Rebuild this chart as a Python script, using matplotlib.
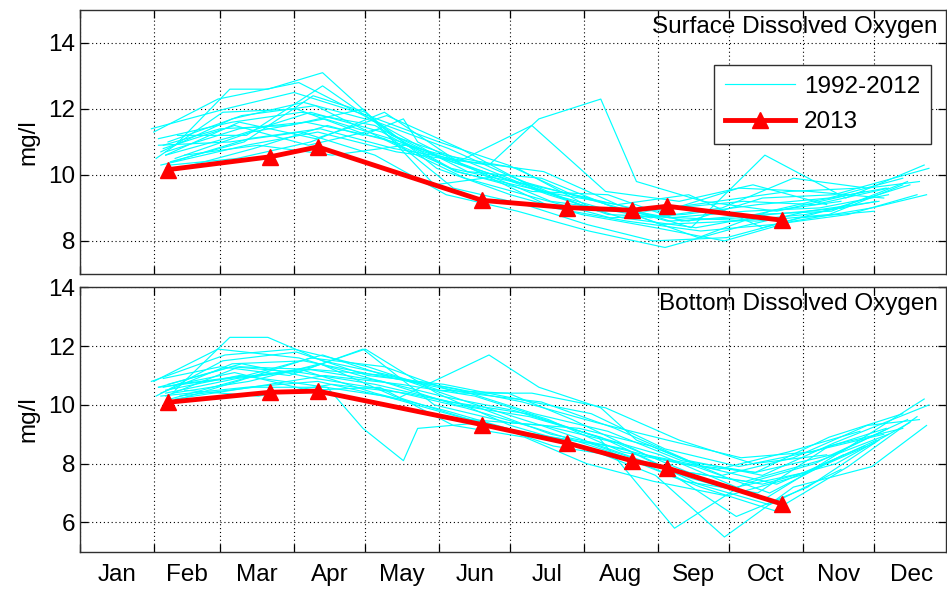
import matplotlib
matplotlib.use("Agg")
import matplotlib.pyplot as plt

plt.rcParams['font.family'] = ['Liberation Sans', 'DejaVu Sans']

# month boundaries (day of year, 0-based) and label positions (mid month)
month_starts = [0, 31, 59, 90, 120, 151, 181, 212, 243, 273, 304, 334]
month_mids = [15.5, 45, 74.5, 105, 135.5, 166, 196.5, 227.5, 258, 288.5, 319, 349.5]
month_names = ["Jan", "Feb", "Mar", "Apr", "May", "Jun",
               "Jul", "Aug", "Sep", "Oct", "Nov", "Dec"]

# 1992-2012 cruises: sampling day, surface DO, bottom DO (one row per year)
hist_days = [
    [36, 66, 97, 127, 158, 189, 219, 248, 280, 311, 340],
    [31, 58, 92, 122, 152, 183, 214, 244, 276, 305, 335],
    [40, 63, 79, 102, 131, 163, 194, 226, 257, 288, 322, 355],
    [34, 70, 100, 133, 172, 193, 219, 234, 262, 293, 330],
    [38, 69, 98, 120, 150, 181, 211, 242, 271, 300, 333, 356],
    [33, 64, 93, 124, 156, 188, 218, 250, 279, 309, 340],
    [36, 67, 95, 128, 159, 190, 222, 253, 284, 316, 348],
    [42, 73, 104, 119, 136, 142, 170, 199, 230, 261, 292, 323, 352],
    [32, 60, 91, 121, 153, 184, 215, 246, 277, 307, 338],
    [37, 68, 99, 130, 162, 192, 223, 254, 285, 315, 346],
    [35, 65, 96, 126, 157, 187, 213, 241, 272, 303, 334],
    [39, 71, 101, 132, 164, 195, 226, 256, 287, 318, 349],
    [30, 61, 90, 121, 151, 180, 207, 238, 268, 298, 328],
    [44, 75, 106, 137, 168, 198, 229, 260, 290, 320],
    [34, 64, 94, 125, 155, 186, 217, 247, 278, 308, 339],
    [38, 66, 97, 128, 159, 190, 221, 252, 283, 314],
    [41, 70, 102, 132, 163, 194, 225, 256, 287, 317, 357],
    [33, 63, 93, 124, 154, 184, 214, 246, 276, 306, 336],
    [36, 67, 99, 129, 160, 191, 222, 253, 284, 315, 346],
    [40, 72, 103, 135, 166, 197, 228, 259, 290, 321],
    [35, 59, 88, 119, 149, 180, 210, 240, 270, 300, 331, 353],
]
hist_surface = [
    [10.6, 11.2, 11.9, 11.3, 10.1, 9.6, 9.0, 8.7, 8.9, 9.0, 9.4],
    [11.3, 12.3, 12.8, 11.7, 10.5, 9.8, 9.3, 8.5, 8.6, 8.8, 9.2],
    [10.9, 12.6, 12.6, 13.1, 11.2, 10.4, 9.5, 9.1, 8.4, 10.6, 9.3, 10.3],
    [10.3, 10.9, 11.3, 10.7, 10.3, 11.7, 12.3, 9.8, 9.2, 8.9, 9.5],
    [10.4, 11.0, 12.4, 11.9, 10.2, 9.4, 8.8, 8.4, 8.0, 8.6, 9.0, 9.4],
    [11.1, 11.6, 11.9, 11.5, 10.2, 9.7, 8.9, 9.0, 9.2, 9.1, 9.6],
    [10.7, 11.4, 11.6, 11.1, 10.1, 9.5, 9.4, 8.6, 8.8, 8.9, 9.8],
    [10.2, 10.8, 11.5, 11.2, 11.7, 11.0, 10.0, 9.0, 8.6, 8.3, 8.5, 8.8, 9.4],
    [10.5, 11.9, 12.0, 11.2, 10.6, 10.2, 9.0, 8.9, 9.6, 9.5, 9.3],
    [11.0, 11.8, 12.1, 11.0, 9.9, 9.3, 8.7, 8.8, 9.1, 9.3, 9.9],
    [10.8, 11.5, 10.9, 11.4, 9.6, 9.1, 8.5, 8.0, 8.1, 8.7, 8.9],
    [10.4, 11.1, 11.4, 10.8, 10.4, 10.1, 9.1, 9.4, 8.4, 9.0, 9.7],
    [11.4, 12.0, 12.5, 11.8, 11.0, 10.3, 9.4, 8.9, 9.2, 9.5, 9.6],
    [10.6, 10.9, 10.6, 10.9, 10.1, 9.2, 8.9, 8.1, 8.9, 9.2],
    [10.7, 11.7, 12.2, 11.6, 10.8, 9.8, 9.2, 8.6, 8.7, 9.2, 9.6],
    [10.3, 10.5, 11.0, 11.9, 10.4, 11.5, 9.5, 9.2, 9.7, 9.1],
    [11.2, 11.2, 12.7, 11.2, 10.1, 9.9, 9.0, 8.6, 9.3, 9.4, 10.2],
    [10.9, 11.0, 11.3, 10.6, 9.4, 8.9, 8.3, 7.8, 8.4, 8.9, 9.2],
    [10.6, 11.6, 11.1, 11.8, 10.8, 9.6, 8.8, 8.7, 8.6, 8.8, 9.7],
    [10.5, 11.3, 11.7, 11.0, 10.2, 9.4, 8.7, 8.4, 8.8, 9.0],
    [10.9, 11.4, 11.5, 12.0, 9.7, 10.0, 9.1, 8.7, 9.0, 9.9, 9.6, 9.8],
]
hist_bottom = [
    [10.4, 10.9, 11.2, 10.8, 10.0, 9.6, 8.9, 7.8, 7.4, 8.1, 9.0],
    [10.8, 11.9, 11.6, 10.9, 10.3, 9.8, 9.0, 8.3, 7.2, 7.7, 8.8],
    [10.5, 12.3, 12.3, 11.5, 11.0, 10.1, 9.3, 8.4, 7.5, 6.8, 8.5, 10.2],
    [10.3, 10.6, 10.8, 10.2, 11.7, 10.6, 9.9, 8.8, 7.9, 7.3, 8.6],
    [10.2, 10.9, 11.3, 11.9, 10.4, 9.3, 8.6, 7.6, 5.5, 7.2, 7.9, 9.3],
    [10.6, 11.3, 11.1, 10.7, 10.1, 9.7, 8.9, 5.8, 7.3, 8.0, 9.2],
    [10.5, 11.0, 10.7, 10.3, 9.6, 9.0, 8.6, 8.0, 7.7, 8.3, 9.5],
    [10.3, 10.6, 10.6, 9.2, 8.1, 9.2, 9.4, 8.6, 8.2, 7.2, 6.4, 7.9, 9.6],
    [10.3, 11.5, 11.8, 11.0, 10.7, 10.2, 9.7, 8.5, 7.9, 8.4, 9.0],
    [10.7, 11.4, 10.9, 10.5, 9.9, 9.2, 8.4, 7.4, 7.0, 8.6, 9.2],
    [10.6, 11.1, 10.5, 10.6, 9.3, 8.9, 8.0, 7.4, 6.9, 7.6, 8.7],
    [10.4, 10.8, 11.4, 10.3, 9.5, 9.3, 8.7, 7.7, 7.3, 8.0, 9.4],
    [10.8, 11.7, 11.9, 11.3, 10.5, 10.4, 9.5, 8.3, 7.8, 8.4, 9.1],
    [10.5, 10.3, 10.7, 10.4, 9.9, 9.0, 8.5, 7.3, 6.6, 7.8],
    [10.4, 11.4, 11.5, 11.0, 10.6, 10.1, 9.4, 8.8, 8.2, 8.4, 9.2],
    [10.1, 10.8, 11.6, 11.3, 10.4, 10.4, 9.9, 8.8, 8.0, 8.3],
    [10.7, 11.0, 11.7, 10.9, 10.4, 10.1, 9.2, 8.1, 7.6, 8.7, 10.0],
    [10.6, 10.9, 11.2, 10.4, 9.8, 9.1, 8.7, 7.8, 6.2, 7.2, 8.8],
    [10.3, 11.3, 11.2, 11.0, 10.5, 9.7, 9.1, 8.1, 7.7, 8.9, 9.7],
    [10.2, 10.6, 11.0, 10.7, 10.3, 9.5, 8.4, 7.9, 7.0, 8.3],
    [10.9, 11.3, 11.0, 11.9, 10.0, 9.4, 9.2, 8.6, 7.6, 8.2, 9.3, 9.5],
]

# 2013 cruises
days_2013 = [37, 80, 100, 169, 205, 232, 247, 295]
surface_2013 = [10.16, 10.55, 10.85, 9.23, 9.01, 8.93, 9.05, 8.63]
bottom_2013 = [10.09, 10.43, 10.47, 9.33, 8.70, 8.10, 7.85, 6.63]

fs = 17.5

fig = plt.figure(figsize=(9.47, 5.89), dpi=100)
ax_top = fig.add_axes([0.0845, 0.535, 0.9140, 0.448])
ax_bot = fig.add_axes([0.0845, 0.0633, 0.9140, 0.4487])

panels = [
    (ax_top, hist_surface, surface_2013, "Surface Dissolved Oxygen", (7, 15), [8, 10, 12, 14]),
    (ax_bot, hist_bottom, bottom_2013, "Bottom Dissolved Oxygen", (5, 14), [6, 8, 10, 12, 14]),
]

for ax, hist_vals, vals_2013, title, ylim, yticks in panels:
    for k, (d, v) in enumerate(zip(hist_days, hist_vals)):
        ax.plot(d, v, color="#00ffff", lw=0.85,
                label="1992-2012" if k == 0 else None)
    ax.plot(days_2013, vals_2013, color="red", lw=3.5, marker="^",
            markersize=11, markerfacecolor="red", markeredgecolor="red",
            label="2013", zorder=5)

    ax.set_xlim(1.8, 364)
    ax.set_ylim(*ylim)
    ax.set_xticks(month_starts)
    ax.set_xticks(month_mids, minor=True)
    ax.set_yticks(yticks)
    ax.set_xticklabels([])
    ax.tick_params(axis="x", which="minor", length=0)
    ax.tick_params(which="major", direction="in", top=True, right=True,
                   length=6, width=0.9, labelsize=fs)
    ax.grid(True, which="major", linestyle=(0, (1, 2.5)), color="black", lw=0.8)
    for sp in ax.spines.values():
        sp.set_color("#303030")
        sp.set_linewidth(1.0)
    ax.set_ylabel("mg/l", fontsize=fs, labelpad=6)
    ax.text(0.991, 0.978, title, transform=ax.transAxes, ha="right", va="top",
            fontsize=fs, zorder=6)

ax_bot.set_xticklabels(month_names, minor=True)
ax_bot.tick_params(axis="x", which="minor", labelsize=fs, pad=9)

leg = ax_top.legend(loc="upper right", bbox_to_anchor=(0.983, 0.792),
                    borderaxespad=0, fontsize=fs, fancybox=False, framealpha=1,
                    edgecolor="#303030", handlelength=2.9,
                    borderpad=0.45, labelspacing=0.55, handletextpad=0.35)
leg.get_frame().set_linewidth(1.0)

fig.savefig("out.png", dpi=100)
